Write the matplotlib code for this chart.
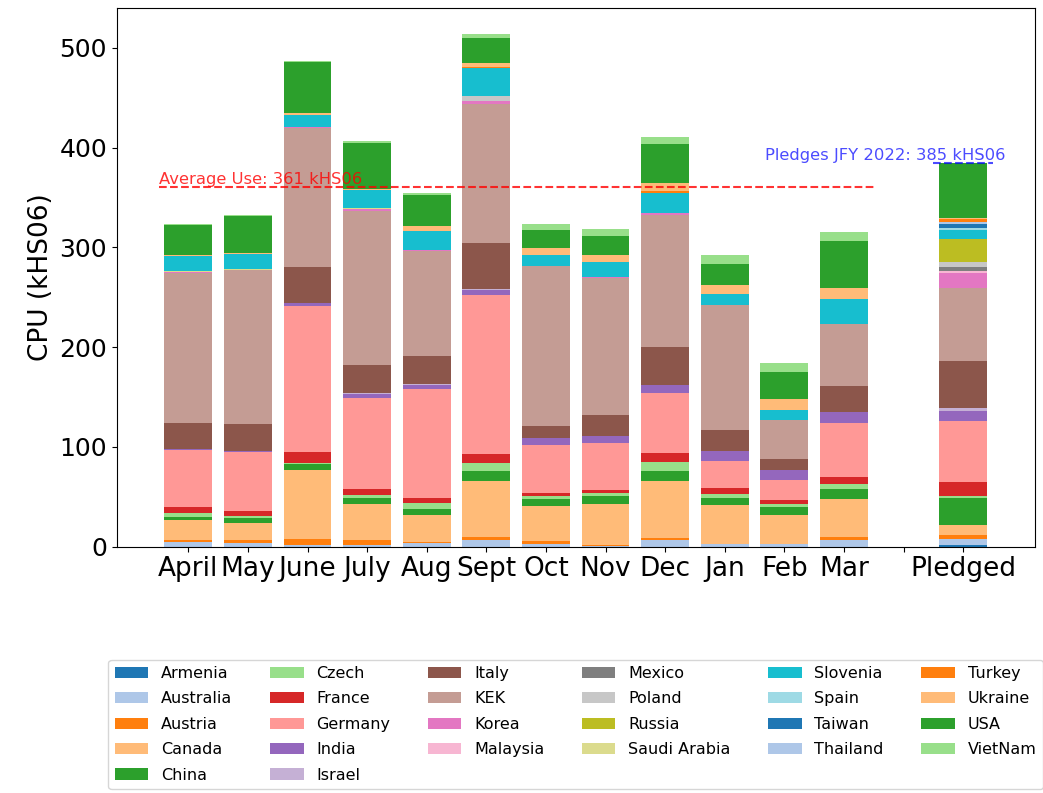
import numpy as np
import matplotlib
matplotlib.use("Agg")
from matplotlib import pyplot as plt

months = ['April', 'May', 'June', 'July', 'Aug', 'Sept', 'Oct', 'Nov', 'Dec',
          'Jan', 'Feb', 'Mar']
countries = ['Armenia', 'Australia', 'Austria', 'Canada', 'China', 'Czech',
             'France', 'Germany', 'India', 'Israel', 'Italy', 'KEK', 'Korea',
             'Malaysia', 'Mexico', 'Poland', 'Russia', 'Saudi Arabia',
             'Slovenia', 'Spain', 'Taiwan', 'Thailand', 'Turkey', 'Ukraine',
             'USA', 'VietNam']

# monthly use per country (kHS06), same order as months
armenia   = [0, 0, 0, 0, 0, 0, 0, 0, 0, 0, 0, 0]
australia = [5, 4, 2, 2, 4, 7, 3, 0.5, 7, 3, 3, 7]
austria   = [2, 3, 6, 5, 0.5, 3, 3, 1.5, 2, 0, 0, 3]
canada    = [20, 17, 69, 36, 27, 56, 35, 41, 57, 39, 29, 38]
china     = [3, 5, 6, 6, 6, 10, 7, 8, 10, 7, 8, 10]
czech     = [4, 2, 1, 3, 6, 8, 3, 3, 9, 4, 3, 5]
france    = [6, 5, 11, 6, 5, 9, 3, 3, 9, 6, 4, 7]
germany   = [57, 59, 146, 91, 110, 159, 48, 47, 60, 27, 20, 54]
india     = [0.5, 1, 3, 4, 4, 5, 7, 7, 8, 10, 10, 11.5]
israel    = [0, 0, 0, 1, 1, 1, 0, 0, 0, 0, 0, 0]
italy     = [26, 27, 36, 28, 28, 46, 12, 21, 38, 21, 11, 26]
kek       = [151, 154, 140, 154, 105, 140, 160, 137, 132, 125, 38.5, 61.5]
korea     = [0.5, 0.5, 0.5, 2, 1, 3, 0.5, 1, 2, 0.5, 0, 0.5]
malaysia  = [0, 0, 0, 0, 0, 0, 0, 0, 0, 0, 0, 0]
mexico    = [0, 0, 0, 0, 0, 0, 0, 0, 0, 0, 0, 0]
poland    = [0, 0, 0, 0, 0, 5, 0, 0, 0, 0, 0, 0]
russia    = [0, 0, 0, 0, 0, 0, 0, 0, 0, 0, 0, 0]
saudi     = [1, 0.5, 0.5, 1, 0, 0, 0, 0, 0, 0, 0, 0]
slovenia  = [15, 15, 12, 19, 19, 28, 11, 15, 21, 11, 10.5, 24.5]
spain     = [0, 0, 0, 0, 0, 0, 0, 0, 0, 0, 0, 0]
taiwan    = [0, 0, 0, 0, 0, 0, 0, 0, 0, 0, 0, 0]
thailand  = [0, 0, 0, 0, 0, 0, 0, 0, 0, 0, 0, 0]
turkey    = [0, 0, 0, 0, 0, 1, 0, 0, 2, 0, 0, 0]
ukraine   = [1, 1.5, 2, 1, 5, 4, 7, 7, 8, 9, 11, 11]
usa       = [30, 37, 51, 46, 31, 25, 18, 19, 39, 21, 27, 47]
vietnam   = [1, 0.5, 1, 2, 2, 4, 6, 7, 7, 9, 9, 9.5]

# pledges JFY 2022 per country, same order as countries
pledged = [2, 6, 4, 10, 27, 2, 13.5, 61.5, 10, 3, 47, 73, 15.5, 1.5, 4, 5.5,
           22.5, 0.5, 8.5, 2, 4, 2, 3.5, 1, 55.5, 0]

avg_use = 361
pledge_total = 385

usage = [armenia, australia, austria, canada, china, czech, france, germany,
         india, israel, italy, kek, korea, malaysia, mexico, poland, russia,
         saudi, slovenia, spain, taiwan, thailand, turkey, ukraine, usa,
         vietnam]

colors = plt.cm.tab20.colors

fig = plt.figure(figsize=(10.43, 7.93), dpi=100)
ax = fig.add_axes([0.112, 0.3106, 0.880, 0.679])

x = np.arange(len(months))
px = len(months) + 1
bottom = np.zeros(len(months))
pbottom = 0.0
for i, name in enumerate(countries):
    vals = np.array(usage[i], dtype=float)
    c = colors[i % 20]
    ax.bar(x, vals, 0.8, bottom=bottom, color=c, label=name)
    ax.bar(px, pledged[i], 0.8, bottom=pbottom, color=c)
    bottom += vals
    pbottom += pledged[i]

ax.hlines(avg_use, -0.5, len(months) - 0.5, colors='red', linestyles='dashed',
          linewidth=1.5, alpha=0.8)
ax.text(-0.5, avg_use, f'Average Use: {avg_use} kHS06', color='red',
        alpha=0.8, fontsize=11.8, va='bottom')
ax.hlines(pledge_total, px - 0.5, px + 0.5, colors='blue',
          linestyles='dashed', linewidth=1.5, alpha=0.7)
ax.text(9.68, pledge_total, f'Pledges JFY 2022: {pledge_total} kHS06',
        color='blue', alpha=0.7, fontsize=11.8, va='bottom')

ax.set_xticks(list(x) + [len(months), px])
ax.set_xticklabels(months + ['', 'Pledged'], fontsize=19)
ax.tick_params(axis='y', labelsize=18)
ax.set_ylabel('CPU (kHS06)', fontsize=19)

ax.legend(loc='upper center', bbox_to_anchor=(0.5, -0.195), ncol=6,
          fontsize=11.5, columnspacing=2.35, labelspacing=0.65,
          handlelength=2.1)

fig.savefig('out.png', dpi=100)
